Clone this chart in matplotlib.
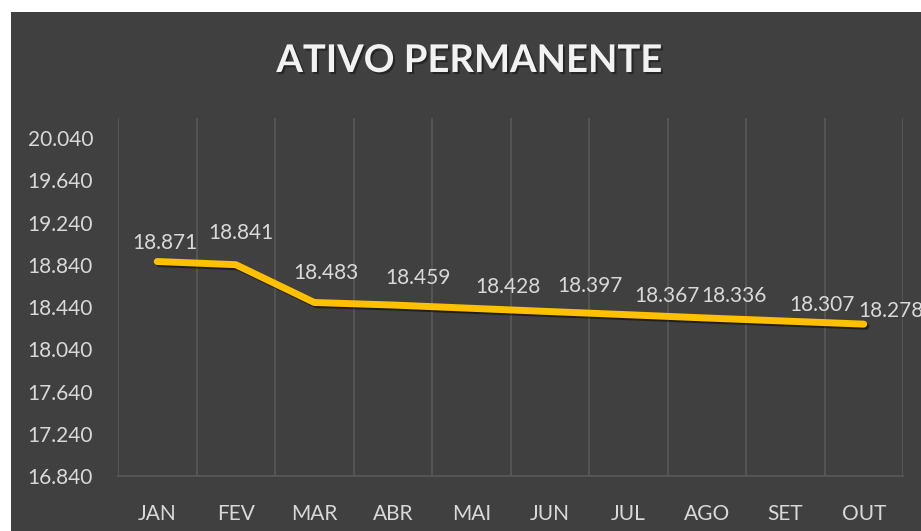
import matplotlib
matplotlib.use("Agg")
import matplotlib.pyplot as plt
from matplotlib.patches import Rectangle
import matplotlib.patheffects as pe
import numpy as np

months = ["JAN", "FEV", "MAR", "ABR", "MAI", "JUN", "JUL", "AGO", "SET", "OUT"]
values = [18.871, 18.841, 18.483, 18.459, 18.428, 18.397, 18.367, 18.336, 18.307, 18.278]
value_labels = ["18.871", "18.841", "18.483", "18.459", "18.428", "18.397", "18.367", "18.336", "18.307", "18.278"]
yticks = [16.84, 17.24, 17.64, 18.04, 18.44, 18.84, 19.24, 19.64, 20.04]
ytick_labels = ["16.840", "17.240", "17.640", "18.040", "18.440", "18.840", "19.240", "19.640", "20.040"]
title = "ATIVO PERMANENTE"

# label offsets in pixels (dx, dy) relative to each point
label_offsets = [(8, 19), (5, 32), (12, 29), (25, 27), (37, 21), (40, 26), (39, 19), (27, 22), (37, 16), (27, 13)]

BG = "#404040"
GRID = "#595959"
TXT = "#d9d9d9"
FONT = ["Lato", "DejaVu Sans"]

W, H, DPI = 921, 531, 100
fig = plt.figure(figsize=(W / DPI, H / DPI), dpi=DPI)
fig.patch.set_facecolor("white")
fig.patches.append(Rectangle((11 / W, 0), 1, 1 - 12 / H, transform=fig.transFigure,
                             facecolor=BG, edgecolor="none", zorder=-10))

ax = fig.add_axes([118 / W, 55 / H, (903 - 118) / W, (476 - 118) / H])
ax.set_facecolor(BG)
x = np.arange(len(months))
ax.set_xlim(-0.5, len(months) - 0.5)
ax.set_ylim(16.84, 20.23)

for b in np.arange(-0.5, len(months), 1.0):
    ax.axvline(b, color=GRID, lw=1.2, zorder=1)

for s in ["top", "right", "left"]:
    ax.spines[s].set_visible(False)
ax.spines["bottom"].set_color(GRID)
ax.spines["bottom"].set_linewidth(1.2)

ax.plot(x, values, color="#FFC000", lw=5, solid_capstyle="round", solid_joinstyle="round", zorder=3,
        path_effects=[pe.SimpleLineShadow(offset=(1.5, -1.5), shadow_color="black", alpha=0.5), pe.Normal()])

ax.set_xticks(x)
ax.set_xticklabels(months, fontsize=15, color=TXT, family=FONT)
ax.set_yticks(yticks)
ax.set_yticklabels(ytick_labels, fontsize=15, color=TXT, family=FONT)
ax.tick_params(axis="both", length=0)
ax.tick_params(axis="x", pad=20)
ax.tick_params(axis="y", pad=18)

for xi, v, lab, (dx, dy) in zip(x, values, value_labels, label_offsets):
    ax.annotate(lab, (xi, v), xytext=(dx * 72 / DPI, dy * 72 / DPI), textcoords="offset points",
                ha="center", va="center", fontsize=15, color=TXT, family=FONT, zorder=4)

fig.text(470 / W, 1 - 61 / H, title, ha="center", va="center", fontsize=27.5, fontweight="bold",
         color="#f2f2f2", family=FONT,
         path_effects=[pe.withSimplePatchShadow(offset=(1.5, -1.5), shadow_rgbFace="black", alpha=0.4)])

fig.savefig("out.png", dpi=DPI, facecolor=fig.get_facecolor())
